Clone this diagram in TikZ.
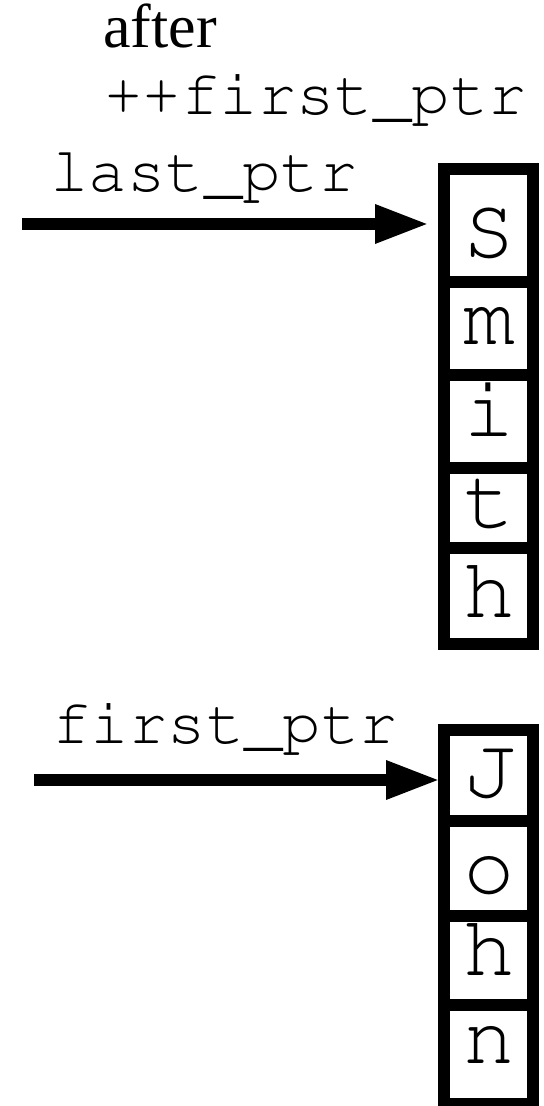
\documentclass[tikz,border=0pt]{standalone}
\usepackage[T1]{fontenc}
\usepackage{fontspec}
\setmainfont{Liberation Serif}
\newcommand{\cour}{\fontencoding{T1}\fontfamily{pcr}\fontseries{m}\fontshape{n}\selectfont}
\usetikzlibrary{arrows.meta}
\begin{document}
\begin{tikzpicture}[x=0.5pt,y=-0.5pt,
  cell/.style={draw,line width=6pt,inner sep=0pt,outer sep=0pt,minimum width=44.5pt},
  letter/.style={anchor=base,inner sep=0pt,font=\cour\fontsize{43pt}{43pt}\selectfont},
  lbl/.style={anchor=base west,inner sep=0pt,font=\cour\fontsize{32pt}{32pt}\selectfont},
  title/.style={anchor=base west,inner sep=0pt,font=\fontsize{31pt}{31pt}\selectfont},
  ptr/.style={line width=6pt,-{Triangle[length=27pt,width=18pt]}}]
\useasboundingbox (0,0) rectangle (544,1106);
% top box (Smith)
\node[cell,minimum height=56.5pt] (cS) at (488.5,225.5) {};
\node[cell,minimum height=46.5pt] (cm) at (488.5,328.5) {};
\node[cell,minimum height=46.5pt] (ci) at (488.5,421.5) {};
\node[cell,minimum height=40pt]   (ct) at (488.5,508) {};
\node[cell,minimum height=48pt]   (ch) at (488.5,596) {};
\node[letter] (lS) at (489,258) {S};
\node[letter] (lm) at (489,345) {m};
\node[letter] (li) at (489,437) {i};
\node[letter] (lt) at (489,527) {t};
\node[letter] (lh) at (489,617) {h};
% bottom box (John)
\node[cell,minimum height=45.5pt] (cJ) at (488.5,775.5) {};
\node[cell,minimum height=47.5pt] (co) at (488.5,868.5) {};
\node[cell,minimum height=44.5pt] (chb) at (488.5,960.5) {};
\node[cell,minimum height=49.5pt] (cn) at (488.5,1054.5) {};
\node[letter] (lJ) at (489,797) {J};
\node[letter] (lo) at (489,893) {o};
\node[letter] (lhb) at (489,975) {h};
\node[letter] (ln) at (489,1063) {n};
% labels
\node[title] (after) at (103,48) {after};
\node[lbl] (inc) at (104,115) {++first\_ptr};
\node[lbl] (lastlbl) at (50,192) {last\_ptr};
\node[lbl] (firstlbl) at (52,743) {first\_ptr};
% pointers
\coordinate (lpstart) at (22,224);
\coordinate (fpstart) at (34,780);
\draw[ptr,shorten >=7.5pt] (lpstart) -- (cS.west |- lpstart);
\draw[ptr,shorten >=2pt] (fpstart) -- (cJ.west |- fpstart);
\end{tikzpicture}
\end{document}
